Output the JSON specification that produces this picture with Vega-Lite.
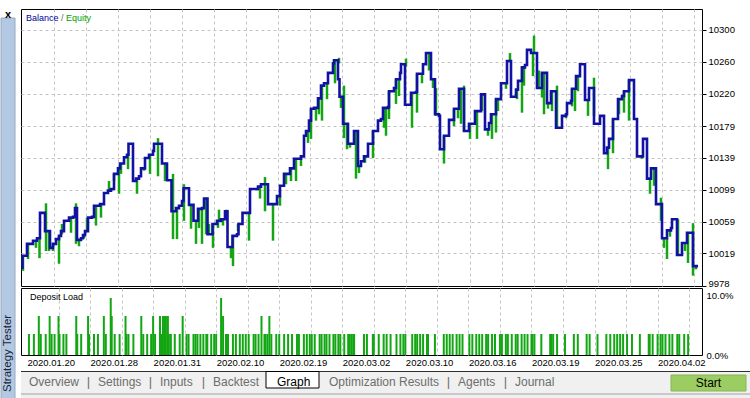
{
"$schema": "https://vega.github.io/schema/vega-lite/v6.json",
"padding": {"left": 0, "top": 8, "right": 0, "bottom": 0},
"autosize": {"type": "pad"},
"background": "white",
"bounds": "flush",
"spacing": 6,
"datasets": {
"balance": [
{"n":21,"bal":10001},{"n":21.5,"bal":10016},{"n":26,"bal":10031},{"n":32,"bal":10035},{"n":36,"bal":10038},{"n":39,"bal":10070},{"n":44,"bal":10047},{"n":49,"bal":10026},{"n":52,"bal":10031},{"n":55,"bal":10037},{"n":58,"bal":10041},{"n":60,"bal":10047},{"n":63,"bal":10060},{"n":68,"bal":10064},{"n":72,"bal":10065},{"n":74,"bal":10076},{"n":76,"bal":10036},{"n":80,"bal":10038},{"n":82,"bal":10042},{"n":84,"bal":10047},{"n":87,"bal":10064},{"n":91,"bal":10065},{"n":93,"bal":10079},{"n":99,"bal":10081},{"n":103,"bal":10095},{"n":107,"bal":10098},{"n":110,"bal":10100},{"n":113,"bal":10119},{"n":117,"bal":10126},{"n":119,"bal":10132},{"n":123,"bal":10140},{"n":126,"bal":10143},{"n":127.5,"bal":10157},{"n":132,"bal":10110},{"n":135,"bal":10113},{"n":138,"bal":10116},{"n":140,"bal":10126},{"n":144,"bal":10139},{"n":148,"bal":10143},{"n":152,"bal":10148},{"n":153,"bal":10157},{"n":161,"bal":10132},{"n":166,"bal":10111},{"n":170.5,"bal":10072},{"n":175,"bal":10076},{"n":178,"bal":10079},{"n":181,"bal":10085},{"n":182.5,"bal":10101},{"n":188,"bal":10080},{"n":192.5,"bal":10060},{"n":197,"bal":10075},{"n":201,"bal":10076},{"n":203,"bal":10088},{"n":206.5,"bal":10043},{"n":211.5,"bal":10056},{"n":216,"bal":10060},{"n":220,"bal":10062},{"n":224,"bal":10072},{"n":226.5,"bal":10027},{"n":231.5,"bal":10041},{"n":236,"bal":10043},{"n":237.5,"bal":10056},{"n":241.5,"bal":10070},{"n":249,"bal":10100},{"n":257,"bal":10103},{"n":260,"bal":10106},{"n":267,"bal":10081},{"n":276,"bal":10091},{"n":279,"bal":10104},{"n":283,"bal":10119},{"n":289,"bal":10126},{"n":293,"bal":10138},{"n":300,"bal":10141},{"n":303,"bal":10167},{"n":305,"bal":10173},{"n":308,"bal":10186},{"n":310,"bal":10201},{"n":313,"bal":10202},{"n":317,"bal":10214},{"n":320,"bal":10230},{"n":323,"bal":10233},{"n":327,"bal":10246},{"n":332,"bal":10258},{"n":333,"bal":10262},{"n":337,"bal":10238},{"n":338.5,"bal":10216},{"n":342,"bal":10182},{"n":347,"bal":10157},{"n":353,"bal":10173},{"n":357,"bal":10129},{"n":360,"bal":10135},{"n":363,"bal":10141},{"n":367,"bal":10157},{"n":372,"bal":10173},{"n":377,"bal":10186},{"n":380,"bal":10188},{"n":382,"bal":10202},{"n":387,"bal":10203},{"n":388,"bal":10223},{"n":393,"bal":10227},{"n":395,"bal":10238},{"n":399,"bal":10246},{"n":400,"bal":10257},{"n":404,"bal":10206},{"n":410,"bal":10221},{"n":415,"bal":10222},{"n":416,"bal":10245},{"n":422,"bal":10257},{"n":425,"bal":10271},{"n":430,"bal":10238},{"n":434,"bal":10194},{"n":438,"bal":10192},{"n":439,"bal":10150},{"n":443,"bal":10167},{"n":448,"bal":10187},{"n":453,"bal":10201},{"n":458,"bal":10226},{"n":463,"bal":10173},{"n":468,"bal":10182},{"n":474,"bal":10198},{"n":480,"bal":10219},{"n":484,"bal":10175},{"n":488,"bal":10183},{"n":490,"bal":10194},{"n":495,"bal":10213},{"n":500,"bal":10233},{"n":506,"bal":10261},{"n":510,"bal":10216},{"n":515,"bal":10225},{"n":517,"bal":10236},{"n":521,"bal":10253},{"n":524,"bal":10256},{"n":526,"bal":10275},{"n":530,"bal":10271},{"n":536,"bal":10227},{"n":541,"bal":10246},{"n":546,"bal":10208},{"n":550,"bal":10223},{"n":555,"bal":10177},{"n":561,"bal":10192},{"n":565,"bal":10194},{"n":566,"bal":10208},{"n":570,"bal":10211},{"n":571,"bal":10226},{"n":575,"bal":10242},{"n":579,"bal":10257},{"n":584,"bal":10212},{"n":588,"bal":10227},{"n":593,"bal":10182},{"n":599,"bal":10192},{"n":603,"bal":10145},{"n":606,"bal":10152},{"n":608,"bal":10163},{"n":612,"bal":10188},{"n":617,"bal":10213},{"n":621,"bal":10217},{"n":623,"bal":10223},{"n":628,"bal":10237},{"n":633,"bal":10188},{"n":636,"bal":10141},{"n":642,"bal":10163},{"n":646,"bal":10113},{"n":650,"bal":10126},{"n":655,"bal":10081},{"n":661,"bal":10038},{"n":666,"bal":10048},{"n":670,"bal":10051},{"n":671,"bal":10062},{"n":676,"bal":10017},{"n":681,"bal":10032},{"n":686,"bal":10045},{"n":692,"bal":10003},{"n":697,"bal":10003}
],
"spikes": [
{"n":22,"hi":10016,"lo":9997},{"n":27,"hi":10031,"lo":10012},{"n":35,"hi":10035,"lo":10026},{"n":38.5,"hi":10038,"lo":10013},{"n":45,"hi":10082,"lo":10022},{"n":48,"hi":10047,"lo":10022},{"n":52,"hi":10031,"lo":10022},{"n":58,"hi":10041,"lo":10006},{"n":61,"hi":10056,"lo":10043},{"n":70,"hi":10064,"lo":10045},{"n":75,"hi":10082,"lo":10031},{"n":78,"hi":10036,"lo":10028},{"n":83,"hi":10042,"lo":10038},{"n":86,"hi":10064,"lo":10047},{"n":95,"hi":10079,"lo":10054},{"n":100,"hi":10081,"lo":10064},{"n":108,"hi":10110,"lo":10098},{"n":113,"hi":10119,"lo":10110},{"n":118,"hi":10126,"lo":10094},{"n":120,"hi":10132,"lo":10119},{"n":127,"hi":10143,"lo":10125},{"n":136,"hi":10113,"lo":10094},{"n":143,"hi":10126,"lo":10123},{"n":149,"hi":10143,"lo":10119},{"n":157,"hi":10164,"lo":10116},{"n":164,"hi":10132,"lo":10110},{"n":172,"hi":10119,"lo":10037},{"n":176,"hi":10076,"lo":10037},{"n":183,"hi":10106,"lo":10060},{"n":190,"hi":10080,"lo":10050},{"n":195,"hi":10060,"lo":10031},{"n":198,"hi":10075,"lo":10051},{"n":201,"hi":10076,"lo":10031},{"n":205,"hi":10089,"lo":10043},{"n":208,"hi":10056,"lo":10043},{"n":212,"hi":10056,"lo":10026},{"n":217,"hi":10060,"lo":10051},{"n":218,"hi":10074,"lo":10060},{"n":222,"hi":10062,"lo":10054},{"n":225.5,"hi":10074,"lo":10066},{"n":230,"hi":10027,"lo":10013},{"n":232,"hi":10041,"lo":10003},{"n":237,"hi":10056,"lo":10047},{"n":248,"hi":10070,"lo":10035},{"n":259,"hi":10103,"lo":10088},{"n":264,"hi":10115,"lo":10072},{"n":272,"hi":10081,"lo":10035},{"n":279,"hi":10091,"lo":10079},{"n":285,"hi":10119,"lo":10106},{"n":290,"hi":10126,"lo":10110},{"n":295,"hi":10138,"lo":10110},{"n":300,"hi":10142,"lo":10129},{"n":307,"hi":10173,"lo":10158},{"n":310,"hi":10201,"lo":10163},{"n":315,"hi":10202,"lo":10186},{"n":318,"hi":10215,"lo":10194},{"n":321,"hi":10230,"lo":10186},{"n":326,"hi":10233,"lo":10213},{"n":334,"hi":10262,"lo":10233},{"n":338,"hi":10265,"lo":10258},{"n":340,"hi":10216,"lo":10202},{"n":343,"hi":10230,"lo":10164},{"n":346,"hi":10182,"lo":10150},{"n":349,"hi":10157,"lo":10152},{"n":355,"hi":10173,"lo":10113},{"n":358,"hi":10129,"lo":10120},{"n":364,"hi":10142,"lo":10133},{"n":372,"hi":10173,"lo":10139},{"n":383,"hi":10202,"lo":10177},{"n":385,"hi":10202,"lo":10167},{"n":388,"hi":10223,"lo":10188},{"n":395,"hi":10238,"lo":10207},{"n":398,"hi":10238,"lo":10217},{"n":405,"hi":10264,"lo":10254},{"n":411,"hi":10221,"lo":10177},{"n":416,"hi":10245,"lo":10196},{"n":421,"hi":10245,"lo":10233},{"n":428,"hi":10271,"lo":10249},{"n":432,"hi":10238,"lo":10227},{"n":435,"hi":10227,"lo":10192},{"n":443,"hi":10167,"lo":10132},{"n":453,"hi":10201,"lo":10179},{"n":457,"hi":10201,"lo":10189},{"n":460,"hi":10226,"lo":10182},{"n":463,"hi":10230,"lo":10173},{"n":469,"hi":10182,"lo":10163},{"n":476,"hi":10198,"lo":10163},{"n":481,"hi":10220,"lo":10198},{"n":487,"hi":10176,"lo":10167},{"n":491,"hi":10194,"lo":10163},{"n":495,"hi":10213,"lo":10171},{"n":497,"hi":10213,"lo":10198},{"n":505,"hi":10233,"lo":10226},{"n":509,"hi":10271,"lo":10261},{"n":516,"hi":10225,"lo":10213},{"n":521,"hi":10254,"lo":10196},{"n":523,"hi":10254,"lo":10230},{"n":532,"hi":10271,"lo":10242},{"n":533,"hi":10293,"lo":10271},{"n":538,"hi":10249,"lo":10227},{"n":541,"hi":10246,"lo":10215},{"n":543,"hi":10246,"lo":10194},{"n":547,"hi":10208,"lo":10201},{"n":551,"hi":10223,"lo":10198},{"n":556,"hi":10230,"lo":10177},{"n":565,"hi":10194,"lo":10189},{"n":571,"hi":10226,"lo":10204},{"n":574,"hi":10226,"lo":10198},{"n":577,"hi":10242,"lo":10223},{"n":587,"hi":10212,"lo":10192},{"n":593,"hi":10240,"lo":10192},{"n":607,"hi":10152,"lo":10125},{"n":612,"hi":10188,"lo":10145},{"n":618,"hi":10213,"lo":10194},{"n":623,"hi":10223,"lo":10196},{"n":628,"hi":10237,"lo":10186},{"n":641,"hi":10142,"lo":10138},{"n":649,"hi":10113,"lo":10094},{"n":653,"hi":10126,"lo":10104},{"n":660,"hi":10089,"lo":10060},{"n":663,"hi":10038,"lo":10026},{"n":666,"hi":10038,"lo":10012},{"n":669,"hi":10049,"lo":10040},{"n":677,"hi":10062,"lo":10018},{"n":684,"hi":10032,"lo":10022},{"n":687,"hi":10045,"lo":10007},{"n":692,"hi":10057,"lo":9991},{"n":695,"hi":10003,"lo":9999}
],
"load": [
{"n":23,"v":3.5},{"n":28,"v":3.5},{"n":33,"v":6.5},{"n":35,"v":3.5},{"n":40,"v":3.5},{"n":44,"v":6.5},{"n":46,"v":3.5},{"n":49,"v":3.5},{"n":53,"v":6.5},{"n":54,"v":3.5},{"n":58,"v":3.5},{"n":61,"v":3.5},{"n":71,"v":6.5},{"n":72,"v":3.5},{"n":76,"v":3.5},{"n":83,"v":6.5},{"n":84,"v":3.5},{"n":89,"v":3.5},{"n":93,"v":3.5},{"n":99,"v":6.5},{"n":101,"v":3.5},{"n":106,"v":9.5},{"n":107,"v":6.5},{"n":110,"v":3.5},{"n":115,"v":3.5},{"n":121,"v":6.5},{"n":122,"v":3.5},{"n":124,"v":3.5},{"n":129,"v":3.5},{"n":137,"v":6.5},{"n":139,"v":3.5},{"n":143,"v":3.5},{"n":147,"v":3.5},{"n":149,"v":6.5},{"n":151,"v":3.5},{"n":156,"v":6.5},{"n":157,"v":3.5},{"n":159,"v":6.5},{"n":161,"v":6.5},{"n":162,"v":6.5},{"n":164,"v":6.5},{"n":165,"v":3.5},{"n":167,"v":3.5},{"n":171,"v":3.5},{"n":176,"v":3.5},{"n":179,"v":6.5},{"n":183,"v":3.5},{"n":185,"v":3.5},{"n":190,"v":3.5},{"n":192,"v":3.5},{"n":194,"v":3.5},{"n":197,"v":3.5},{"n":200,"v":3.5},{"n":203,"v":3.5},{"n":204,"v":3.5},{"n":208,"v":3.5},{"n":211,"v":3.5},{"n":213,"v":3.5},{"n":218,"v":9.5},{"n":220,"v":6.5},{"n":223,"v":3.5},{"n":225,"v":3.5},{"n":230,"v":3.5},{"n":233,"v":3.5},{"n":237,"v":3.5},{"n":240,"v":3.5},{"n":243,"v":3.5},{"n":246,"v":3.5},{"n":251,"v":3.5},{"n":253,"v":3.5},{"n":256,"v":3.5},{"n":259,"v":6.5},{"n":262,"v":3.5},{"n":263,"v":3.5},{"n":265,"v":3.5},{"n":267,"v":6.5},{"n":269,"v":3.5},{"n":274,"v":3.5},{"n":277,"v":3.5},{"n":282,"v":3.5},{"n":286,"v":3.5},{"n":290,"v":3.5},{"n":295,"v":3.5},{"n":297,"v":3.5},{"n":302,"v":3.5},{"n":305,"v":3.5},{"n":308,"v":3.5},{"n":310,"v":3.5},{"n":313,"v":3.5},{"n":318,"v":3.5},{"n":320,"v":3.5},{"n":323,"v":3.5},{"n":325,"v":3.5},{"n":328,"v":3.5},{"n":332,"v":3.5},{"n":334,"v":3.5},{"n":337,"v":3.5},{"n":339,"v":3.5},{"n":343,"v":3.5},{"n":347,"v":3.5},{"n":348,"v":3.5},{"n":350,"v":3.5},{"n":352,"v":3.5},{"n":353,"v":3.5},{"n":363,"v":3.5},{"n":366,"v":3.5},{"n":372,"v":3.5},{"n":373,"v":3.5},{"n":378,"v":3.5},{"n":383,"v":3.5},{"n":386,"v":3.5},{"n":390,"v":3.5},{"n":396,"v":3.5},{"n":400,"v":3.5},{"n":403,"v":3.5},{"n":405,"v":3.5},{"n":412,"v":3.5},{"n":415,"v":3.5},{"n":417,"v":3.5},{"n":420,"v":3.5},{"n":423,"v":3.5},{"n":427,"v":3.5},{"n":428,"v":3.5},{"n":435,"v":3.5},{"n":444,"v":3.5},{"n":447,"v":3.5},{"n":450,"v":3.5},{"n":453,"v":3.5},{"n":457,"v":3.5},{"n":460,"v":3.5},{"n":463,"v":3.5},{"n":470,"v":3.5},{"n":473,"v":3.5},{"n":477,"v":3.5},{"n":480,"v":3.5},{"n":483,"v":3.5},{"n":487,"v":3.5},{"n":489,"v":3.5},{"n":493,"v":3.5},{"n":496,"v":3.5},{"n":501,"v":3.5},{"n":503,"v":3.5},{"n":507,"v":3.5},{"n":509,"v":3.5},{"n":513,"v":3.5},{"n":517,"v":3.5},{"n":519,"v":3.5},{"n":523,"v":3.5},{"n":526,"v":3.5},{"n":529,"v":3.5},{"n":533,"v":3.5},{"n":534,"v":3.5},{"n":536,"v":3.5},{"n":543,"v":3.5},{"n":552,"v":3.5},{"n":553,"v":3.5},{"n":555,"v":3.5},{"n":559,"v":3.5},{"n":567,"v":3.5},{"n":576,"v":3.5},{"n":580,"v":3.5},{"n":589,"v":3.5},{"n":592,"v":3.5},{"n":600,"v":3.5},{"n":609,"v":3.5},{"n":613,"v":3.5},{"n":617,"v":3.5},{"n":620,"v":3.5},{"n":623,"v":3.5},{"n":626,"v":3.5},{"n":630,"v":3.5},{"n":635,"v":3.5},{"n":643,"v":3.5},{"n":652,"v":3.5},{"n":653,"v":3.5},{"n":656,"v":3.5},{"n":661,"v":3.5},{"n":664,"v":3.5},{"n":666,"v":3.5},{"n":669,"v":3.5},{"n":673,"v":3.5},{"n":676,"v":3.5},{"n":681,"v":3.5},{"n":683,"v":3.5},{"n":688,"v":3.5},{"n":692,"v":3.5}
]
},
"hconcat": [
{
"width": 14, "height": 390, "view": {"stroke": null},
"data": {"values": [{}]},
"layer": [
{"mark": {"type": "rect", "color": "#b3c9e3", "stroke": "#9aa8ba", "strokeWidth": 1},
 "encoding": {"y": {"datum": 9, "type": "quantitative", "scale": {"domain": [0, 390], "reverse": true, "nice": false}, "axis": null}, "y2": {"datum": 390}}},
{"mark": {"type": "text", "text": "Strategy Tester", "angle": 270, "align": "left", "baseline": "middle", "fontSize": 11.5, "color": "#1a2536", "font": "Liberation Sans"},
 "encoding": {"y": {"datum": 383, "type": "quantitative"}}},
{"mark": {"type": "text", "text": "x", "align": "center", "baseline": "top", "fontSize": 11, "fontWeight": "bold", "color": "#000000", "font": "Liberation Sans"},
 "encoding": {"y": {"datum": 0, "type": "quantitative"}}}
]
},
{
"bounds": "flush",
"spacing": 2,
"resolve": {"scale": {"x": "independent", "y": "independent"}},
"vconcat": [
{
"width": 681, "height": 277,
"layer": [
{"data": {"name": "spikes"},
 "mark": {"type": "rule", "color": "#12a612", "strokeWidth": 2.5},
 "encoding": {
  "x": {"field": "n", "type": "quantitative", "scale": {"domain": [20, 701], "nice": false, "zero": false},
        "axis": {"title": null, "values": [53,85,117,149,181,213,245,277,309,341,373,405,437,469,501,533,565,597,629,661,693], "tickCount": 40, "labels": false, "ticks": false, "domain": false, "grid": true, "gridColor": "#c4c4c4", "gridDash": [3, 3], "gridOpacity": 1, "gridWidth": 1}},
  "y": {"field": "lo", "type": "quantitative", "scale": {"domain": [9978, 10326.4], "nice": false, "zero": false},
        "axis": {"title": null, "orient": "right", "values": [9978,10019,10059,10099,10139,10179,10220,10260,10300], "tickCount": 40, "format": "d", "labelOverlap": false, "labelBound": false, "labelFlush": false, "ticks": true, "tickSize": 4, "tickColor": "#000000", "labelPadding": 2, "domain": false, "grid": true, "gridColor": "#c4c4c4", "gridDash": [3, 3], "gridWidth": 1,
                 "gridOpacity": {"condition": {"test": "datum.value == 9978", "value": 0}, "value": 1},
                 "labelOffset": {"condition": {"test": "datum.value == 9978", "value": -3}, "value": 0}}},
  "y2": {"field": "hi"}
 }},
{"data": {"name": "balance"},
 "mark": {"type": "line", "interpolate": "step-after", "color": "#1212a2", "strokeWidth": 2.6},
 "encoding": {"x": {"field": "n", "type": "quantitative"}, "y": {"field": "bal", "type": "quantitative"}}},
{"data": {"values": [{}]},
 "mark": {"type": "text", "text": "Balance", "align": "left", "baseline": "middle", "fontSize": 9, "color": "#0000a0", "font": "Liberation Sans"},
 "encoding": {"x": {"datum": 25, "type": "quantitative"}, "y": {"datum": 10315, "type": "quantitative"}}},
{"data": {"values": [{}]},
 "mark": {"type": "text", "text": "/", "align": "left", "baseline": "middle", "fontSize": 9, "color": "#507a30", "font": "Liberation Sans"},
 "encoding": {"x": {"datum": 60, "type": "quantitative"}, "y": {"datum": 10315, "type": "quantitative"}}},
{"data": {"values": [{}]},
 "mark": {"type": "text", "text": "Equity", "align": "left", "baseline": "middle", "fontSize": 9, "color": "#00a000", "font": "Liberation Sans"},
 "encoding": {"x": {"datum": 65, "type": "quantitative"}, "y": {"datum": 10315, "type": "quantitative"}}}
]
},
{
"width": 681, "height": 67,
"layer": [
{"data": {"name": "load"},
 "mark": {"type": "bar", "color": "#12a612", "size": 2},
 "encoding": {
  "x": {"field": "n", "type": "quantitative", "scale": {"domain": [20, 701], "nice": false, "zero": false},
        "axis": {"title": null, "values": [21,53,85,117,149,181,213,245,277,309,341,373,405,437,469,501,533,565,597,629,661,693], "tickCount": 40, "ticks": false, "domain": false, "grid": true, "gridColor": "#c4c4c4", "gridDash": [3, 3], "gridWidth": 1,
                 "gridOpacity": {"condition": {"test": "datum.value == 21", "value": 0}, "value": 1},
                 "labelAlign": "left", "labelBaseline": "top", "labelPadding": 2, "labelFlush": false, "labelOverlap": false, "labelBound": false,
                 "labelExpr": "(datum.value - 21) % 64 == 0 ? ['2020.01.20','2020.01.28','2020.01.31','2020.02.10','2020.02.19','2020.03.02','2020.03.10','2020.03.16','2020.03.19','2020.03.25','2020.04.02'][(datum.value - 21) / 64] : ''"}},
  "y": {"field": "v", "type": "quantitative", "scale": {"domain": [0, 11.17], "nice": false},
        "axis": {"title": null, "orient": "right", "values": [0, 10], "ticks": false, "domain": false, "grid": false, "labelPadding": 4, "labelOverlap": false, "labelExpr": "format(datum.value, '.1f') + '%'"}}
 }},
{"data": {"values": [{}]},
 "mark": {"type": "text", "text": "Deposit Load", "align": "left", "baseline": "middle", "fontSize": 9, "color": "#000000", "font": "Liberation Sans"},
 "encoding": {"x": {"datum": 24, "type": "quantitative"}, "y": {"datum": 9.67, "type": "quantitative"}}}
]
},
{
"width": 730, "height": 42, "view": {"stroke": null},
"data": {"values": [{}]},
"layer": [
{"mark": {"type": "rect", "color": "#f0f0f0"},
 "encoding": {"y": {"datum": 14.5, "type": "quantitative", "scale": {"domain": [0, 42], "reverse": true, "nice": false}, "axis": null}, "y2": {"datum": 42}}},
{"mark": {"type": "rule", "color": "#303030", "strokeWidth": 1},
 "encoding": {"y": {"datum": 14.5, "type": "quantitative"}}},
{"mark": {"type": "rule", "color": "#a0a0a0", "strokeWidth": 1},
 "encoding": {"y": {"datum": 37, "type": "quantitative"}}},
{"mark": {"type": "rect", "color": "#ffffff", "stroke": "#000000", "strokeWidth": 1},
 "encoding": {"x": {"datum": 265, "type": "quantitative", "scale": {"domain": [20, 750], "nice": false, "zero": false}, "axis": null}, "x2": {"datum": 318}, "y": {"datum": 14.5, "type": "quantitative"}, "y2": {"datum": 31}}},
{"mark": {"type": "rect", "color": "#9ccd63", "stroke": "#8ab455", "strokeWidth": 1},
 "encoding": {"x": {"datum": 670, "type": "quantitative"}, "x2": {"datum": 745}, "y": {"datum": 18, "type": "quantitative"}, "y2": {"datum": 34}}},
{"mark": {"type": "text", "text": "Start", "align": "center", "baseline": "middle", "fontSize": 12, "color": "#000000", "font": "Liberation Sans"},
 "encoding": {"x": {"datum": 707.5, "type": "quantitative"}, "y": {"datum": 26, "type": "quantitative"}}},
{"mark": {"type": "text", "text": "Overview", "align": "left", "baseline": "middle", "fontSize": 12, "color": "#6d6d6d", "font": "Liberation Sans"},
 "encoding": {"x": {"datum": 28, "type": "quantitative"}, "y": {"datum": 25, "type": "quantitative"}}},
{"mark": {"type": "text", "text": "|", "align": "center", "baseline": "middle", "fontSize": 13, "color": "#6d6d6d", "font": "Liberation Sans"},
 "encoding": {"x": {"datum": 87.5, "type": "quantitative"}, "y": {"datum": 25, "type": "quantitative"}}},
{"mark": {"type": "text", "text": "Settings", "align": "left", "baseline": "middle", "fontSize": 12, "color": "#6d6d6d", "font": "Liberation Sans"},
 "encoding": {"x": {"datum": 97, "type": "quantitative"}, "y": {"datum": 25, "type": "quantitative"}}},
{"mark": {"type": "text", "text": "|", "align": "center", "baseline": "middle", "fontSize": 13, "color": "#6d6d6d", "font": "Liberation Sans"},
 "encoding": {"x": {"datum": 149.5, "type": "quantitative"}, "y": {"datum": 25, "type": "quantitative"}}},
{"mark": {"type": "text", "text": "Inputs", "align": "left", "baseline": "middle", "fontSize": 12, "color": "#6d6d6d", "font": "Liberation Sans"},
 "encoding": {"x": {"datum": 159, "type": "quantitative"}, "y": {"datum": 25, "type": "quantitative"}}},
{"mark": {"type": "text", "text": "|", "align": "center", "baseline": "middle", "fontSize": 13, "color": "#6d6d6d", "font": "Liberation Sans"},
 "encoding": {"x": {"datum": 202.5, "type": "quantitative"}, "y": {"datum": 25, "type": "quantitative"}}},
{"mark": {"type": "text", "text": "Backtest", "align": "left", "baseline": "middle", "fontSize": 12, "color": "#6d6d6d", "font": "Liberation Sans"},
 "encoding": {"x": {"datum": 212, "type": "quantitative"}, "y": {"datum": 25, "type": "quantitative"}}},
{"mark": {"type": "text", "text": "Graph", "align": "left", "baseline": "middle", "fontSize": 12, "color": "#000000", "font": "Liberation Sans"},
 "encoding": {"x": {"datum": 276, "type": "quantitative"}, "y": {"datum": 25, "type": "quantitative"}}},
{"mark": {"type": "text", "text": "Optimization Results", "align": "left", "baseline": "middle", "fontSize": 12, "color": "#6d6d6d", "font": "Liberation Sans"},
 "encoding": {"x": {"datum": 328, "type": "quantitative"}, "y": {"datum": 25, "type": "quantitative"}}},
{"mark": {"type": "text", "text": "|", "align": "center", "baseline": "middle", "fontSize": 13, "color": "#6d6d6d", "font": "Liberation Sans"},
 "encoding": {"x": {"datum": 447.5, "type": "quantitative"}, "y": {"datum": 25, "type": "quantitative"}}},
{"mark": {"type": "text", "text": "Agents", "align": "left", "baseline": "middle", "fontSize": 12, "color": "#6d6d6d", "font": "Liberation Sans"},
 "encoding": {"x": {"datum": 457, "type": "quantitative"}, "y": {"datum": 25, "type": "quantitative"}}},
{"mark": {"type": "text", "text": "|", "align": "center", "baseline": "middle", "fontSize": 13, "color": "#6d6d6d", "font": "Liberation Sans"},
 "encoding": {"x": {"datum": 504.5, "type": "quantitative"}, "y": {"datum": 25, "type": "quantitative"}}},
{"mark": {"type": "text", "text": "Journal", "align": "left", "baseline": "middle", "fontSize": 12, "color": "#6d6d6d", "font": "Liberation Sans"},
 "encoding": {"x": {"datum": 514, "type": "quantitative"}, "y": {"datum": 25, "type": "quantitative"}}}
]
}
]
}
],
"resolve": {"scale": {"x": "independent", "y": "independent"}},
"config": {
"font": "Liberation Sans",
"view": {"stroke": "#000000", "strokeWidth": 1},
"axis": {"labelFont": "Liberation Sans", "labelFontSize": 9.5, "labelColor": "#000000"}
}
}
